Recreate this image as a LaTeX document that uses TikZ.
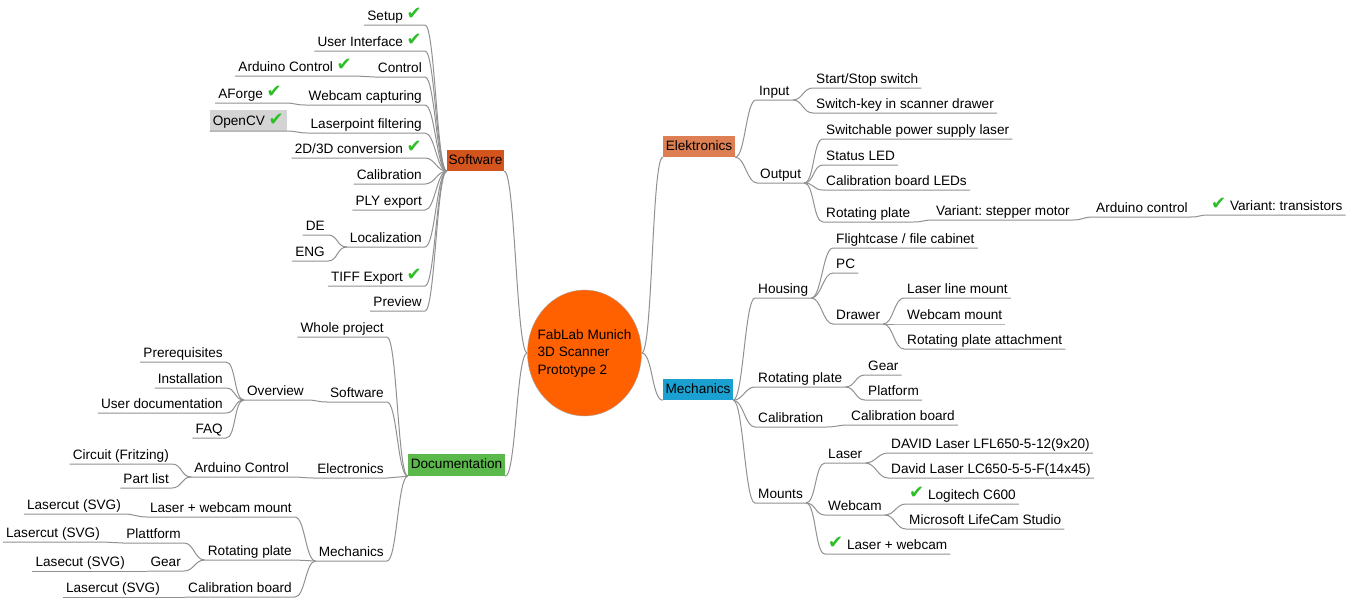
\documentclass[tikz,border=0pt]{standalone}
\usepackage{fontspec}
\setmainfont{Liberation Sans}
\newfontfamily\dejavu{DejaVu Sans}
\usetikzlibrary{shapes.geometric}
\definecolor{rootc}{RGB}{255,96,0}
\definecolor{softc}{RGB}{212,84,30}
\definecolor{elec}{RGB}{221,127,82}
\definecolor{mechc}{RGB}{27,161,209}
\definecolor{docc}{RGB}{90,185,74}
\definecolor{edgec}{RGB}{145,145,145}
\definecolor{chkc}{RGB}{45,190,40}
\definecolor{ocvc}{RGB}{212,212,212}
\frenchspacing
\newcommand\fs{\fontsize{13.6}{16}\selectfont\frenchspacing}
\newcommand\chk{{\dejavu\fontsize{18}{18}\selectfont\color{chkc}\raisebox{0.5pt}{✔}}}
\newcommand\ledge[2]{\draw[edge] (#1.south west) -- (#1.south east) .. controls +(10,0) and +(-10,0) .. (#2);}
\newcommand\redge[2]{\draw[edge] (#1.south east) -- (#1.south west) .. controls +(-10,0) and +(10,0) .. (#2);}
\tikzset{
  edge/.style={draw=edgec, line width=1pt},
  item/.style={font=\fs, inner xsep=3pt, inner ysep=0pt, text height=10.5pt, text depth=4.5pt},
  L/.style={item, anchor=south east},
  R/.style={item, anchor=south west},
  ocv/.style={fill=ocvc, text height=14pt, text depth=3.7pt, inner ysep=1.6pt},
  box/.style={font=\fs, inner sep=0pt, text height=10.5pt, text depth=3pt},
}
\begin{document}
\begin{tikzpicture}[x=1pt,y=-1pt]
\fill[white] (0,0) rectangle (1359,598);
\useasboundingbox (0,0) rectangle (1359,598);

% root
\node[ellipse, draw=gray!70, fill=rootc, minimum width=114pt, minimum height=126pt, inner sep=0pt] (root) at (584.5,353) {};
\node[font=\fontsize{13.6}{17.5}\selectfont, align=left, inner sep=0pt] (rootlbl) at (584.5,353) {FabLab Munich\\3D Scanner\\Prototype 2};

% main boxes
\node[box, fill=softc, minimum width=57pt, minimum height=21pt] (soft) at (475.5,160.5) {Software};
\node[box, fill=docc, minimum width=97pt, minimum height=22pt] (doc) at (456.5,465) {Documentation};
\node[box, fill=elec, minimum width=72pt, minimum height=21pt] (ele) at (699,146.5) {Elektronics};
\node[box, fill=mechc, minimum width=70pt, minimum height=21pt] (mech) at (698,389.5) {Mechanics};

% Software subtree
\node[L] (sw1) at (425,25) {Setup \chk};
\node[L] (sw2) at (425,51) {User Interface \chk};
\node[L] (sw3) at (425,77) {Control};
\node[L] (sw4) at (425,105) {Webcam capturing};
\node[L] (sw5) at (425,133) {Laserpoint filtering};
\node[L] (sw6) at (425,158) {2D/3D conversion \chk};
\node[L] (sw7) at (425,184) {Calibration};
\node[L] (sw8) at (425,210) {PLY export};
\node[L] (sw9) at (425,247) {Localization};
\node[L] (sw10) at (425,286) {TIFF Export \chk};
\node[L] (sw11) at (425,311) {Preview};
\node[L] (sw3a) at (355,76) {Arduino Control \chk};
\node[L] (sw4a) at (285,103) {AForge \chk};
\node[L, ocv] (sw5a) at (287,131) {OpenCV \chk};
\node[L] (sw9a) at (328,235) {DE};
\node[L] (sw9b) at (328,261) {ENG};

% Documentation subtree
\node[L] (d1) at (387,337) {Whole project};
\node[L] (d2) at (387,402) {Software};
\node[L] (d3) at (387,478) {Electronics};
\node[L] (d4) at (387,561) {Mechanics};
\node[L] (d2a) at (307,400) {Overview};
\node[L] (d2a1) at (226,362) {Prerequisites};
\node[L] (d2a2) at (226,388) {Installation};
\node[L] (d2a3) at (226,413) {User documentation};
\node[L] (d2a4) at (226,438) {FAQ};
\node[L] (d3a) at (292,477) {Arduino Control};
\node[L] (d3a1) at (172,464) {Circuit (Fritzing)};
\node[L] (d3a2) at (172,488) {Part list};
\node[L] (d4a) at (295,517) {Laser + webcam mount};
\node[L] (d4a1) at (124,514) {Lasercut (SVG)};
\node[L] (d4b) at (295,560) {Rotating plate};
\node[L] (d4b1) at (184,543) {Plattform};
\node[L] (d4b1a) at (103,542) {Lasercut (SVG)};
\node[L] (d4b2) at (184,571) {Gear};
\node[L] (d4b2a) at (128,571) {Lasecut (SVG)};
\node[L] (d4c) at (295,597) {Calibration board};
\node[L] (d4c1) at (163,597) {Lasercut (SVG)};

% Elektronics subtree
\node[R] (e1) at (756,100) {Input};
\node[R] (e1a) at (813,88) {Start/Stop switch};
\node[R] (e1b) at (813,113) {Switch-key in scanner drawer};
\node[R] (e2) at (757,183) {Output};
\node[R] (e2a) at (823,139) {Switchable power supply laser};
\node[R] (e2b) at (823,165) {Status LED};
\node[R] (e2c) at (823,190) {Calibration board LEDs};
\node[R] (e2d) at (823,222) {Rotating plate};
\node[R] (e2d1) at (933,220) {Variant: stepper motor};
\node[R] (e2d1a) at (1093,217) {Arduino control};
\node[R] (e2d1a1) at (1208,215) {\chk\ Variant: transistors};

% Mechanics subtree
\node[R] (m1) at (755,298) {Housing};
\node[R] (m1a) at (833,248) {Flightcase / file cabinet};
\node[R] (m1b) at (833,273) {PC};
\node[R] (m1c) at (833,324) {Drawer};
\node[R] (m1c1) at (904,298) {Laser line mount};
\node[R] (m1c2) at (904,324) {Webcam mount};
\node[R] (m1c3) at (904,349) {Rotating plate attachment};
\node[R] (m2) at (755,387) {Rotating plate};
\node[R] (m2a) at (865,375) {Gear};
\node[R] (m2b) at (865,400) {Platform};
\node[R] (m3) at (755,427) {Calibration};
\node[R] (m3a) at (848,425) {Calibration board};
\node[R] (m4) at (755,503) {Mounts};
\node[R] (m4a) at (825,463) {Laser};
\node[R] (m4a1) at (888,453) {DAVID Laser LFL650-5-12(9x20)};
\node[R] (m4a2) at (888,478) {David Laser LC650-5-5-F(14x45)};
\node[R] (m4b) at (825,515) {Webcam};
\node[R] (m4b1) at (906,504) {\chk\ Logitech C600};
\node[R] (m4b2) at (906,529) {Microsoft LifeCam Studio};
\node[R] (m4c) at (825,554) {\chk\ Laser + webcam};

% root edges
\draw[edge] (soft.south east) .. controls +(11,0) and +(-11,0) .. (root.west);
\draw[edge] (doc.south east) .. controls +(11,0) and +(-11,0) .. (root.west);
\draw[edge] (ele.south west) .. controls +(-11,0) and +(11,0) .. (root.east);
\draw[edge] (mech.south west) .. controls +(-11,0) and +(11,0) .. (root.east);

% software edges
\ledge{sw1}{soft.south west}
\ledge{sw2}{soft.south west}
\ledge{sw3}{soft.south west}
\ledge{sw4}{soft.south west}
\ledge{sw5}{soft.south west}
\ledge{sw6}{soft.south west}
\ledge{sw7}{soft.south west}
\ledge{sw8}{soft.south west}
\ledge{sw9}{soft.south west}
\ledge{sw10}{soft.south west}
\ledge{sw11}{soft.south west}
\ledge{sw3a}{sw3.south west}
\ledge{sw4a}{sw4.south west}
\ledge{sw5a}{sw5.south west}
\ledge{sw9a}{sw9.south west}
\ledge{sw9b}{sw9.south west}

% documentation edges
\ledge{d1}{doc.south west}
\ledge{d2}{doc.south west}
\ledge{d3}{doc.south west}
\ledge{d4}{doc.south west}
\ledge{d2a}{d2.south west}
\ledge{d2a1}{d2a.south west}
\ledge{d2a2}{d2a.south west}
\ledge{d2a3}{d2a.south west}
\ledge{d2a4}{d2a.south west}
\ledge{d3a}{d3.south west}
\ledge{d3a1}{d3a.south west}
\ledge{d3a2}{d3a.south west}
\ledge{d4a}{d4.south west}
\ledge{d4a1}{d4a.south west}
\ledge{d4b}{d4.south west}
\ledge{d4b1}{d4b.south west}
\ledge{d4b1a}{d4b1.south west}
\ledge{d4b2}{d4b.south west}
\ledge{d4b2a}{d4b2.south west}
\ledge{d4c}{d4.south west}
\ledge{d4c1}{d4c.south west}

% elektronics edges
\redge{e1}{ele.south east}
\redge{e1a}{e1.south east}
\redge{e1b}{e1.south east}
\redge{e2}{ele.south east}
\redge{e2a}{e2.south east}
\redge{e2b}{e2.south east}
\redge{e2c}{e2.south east}
\redge{e2d}{e2.south east}
\redge{e2d1}{e2d.south east}
\redge{e2d1a}{e2d1.south east}
\redge{e2d1a1}{e2d1a.south east}

% mechanics edges
\redge{m1}{mech.south east}
\redge{m1a}{m1.south east}
\redge{m1b}{m1.south east}
\redge{m1c}{m1.south east}
\redge{m1c1}{m1c.south east}
\redge{m1c2}{m1c.south east}
\redge{m1c3}{m1c.south east}
\redge{m2}{mech.south east}
\redge{m2a}{m2.south east}
\redge{m2b}{m2.south east}
\redge{m3}{mech.south east}
\redge{m3a}{m3.south east}
\redge{m4}{mech.south east}
\redge{m4a}{m4.south east}
\redge{m4a1}{m4a.south east}
\redge{m4a2}{m4a.south east}
\redge{m4b}{m4.south east}
\redge{m4b1}{m4b.south east}
\redge{m4b2}{m4b.south east}
\redge{m4c}{m4.south east}
\end{tikzpicture}
\end{document}
